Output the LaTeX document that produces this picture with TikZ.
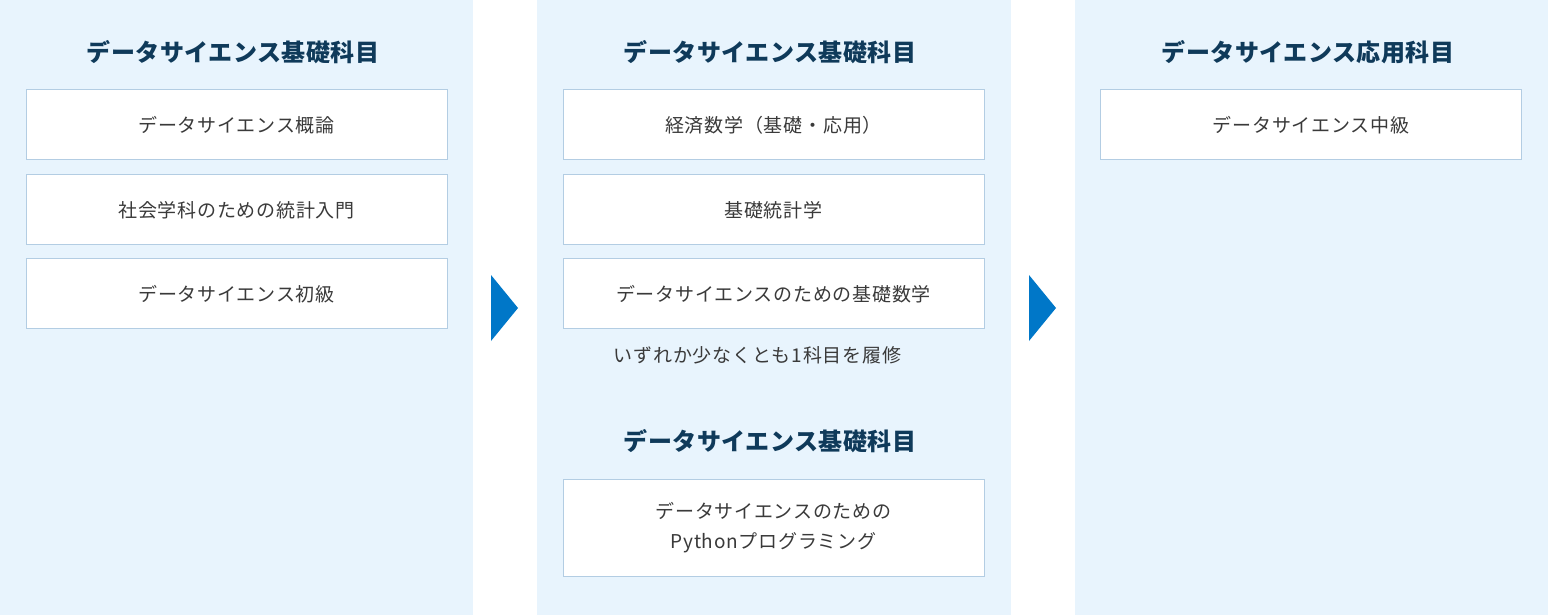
\documentclass[tikz,border=0pt]{standalone}
\usepackage{fontspec}
\setmainfont{Noto Sans CJK JP}
\usetikzlibrary{calc}
\definecolor{colbg}{HTML}{E8F4FD}
\definecolor{boxline}{HTML}{B3CDE3}
\definecolor{headblue}{HTML}{0F3A5A}
\definecolor{bodygray}{HTML}{3A3A3A}
\definecolor{arrowblue}{HTML}{0077C8}
\tikzstyle{course}=[rectangle,draw=boxline,line width=1pt,fill=white,minimum width=421pt,minimum height=70pt,inner sep=0pt,text=bodygray,font=\fontsize{19pt}{30pt}\selectfont\addfontfeature{LetterSpace=4},align=center]
\tikzstyle{heading}=[text=headblue,font=\fontsize{24pt}{28pt}\selectfont\bfseries\addfontfeature{LetterSpace=2},inner sep=0pt]
\tikzstyle{note} = [text=bodygray,font=\fontsize{19pt}{22pt}\selectfont\addfontfeature{LetterSpace=4},inner sep=0pt]

\begin{document}
\begin{tikzpicture}[x=1pt,y=-1pt]
    \useasboundingbox (0,0) rectangle (1548,615);

    % column backgrounds
    \foreach \left/ \right in {0/473, 537/1011, 1075/1548}
        \fill[colbg] (\left,0) rectangle (\right,615);

    % headings
    \foreach \pos/ \name/ \text in {{(233,52)/headA/データサイエンス基礎科目}, {(770,52)/headB/データサイエンス基礎科目}, {(770,441)/headC/データサイエンス基礎科目}, {(1308,52)/headD/データサイエンス応用科目}}
        \node[heading] (\name) at \pos {\text};

    % course boxes
    \foreach \pos/ \name/ \text in {{(236.5,125)/a1/データサイエンス概論}, {(236.5,209.5)/a2/社会学科のための統計入門}, {(236.5,293.5)/a3/データサイエンス初級}, {(773.5,125)/b1/経済数学（基礎・応用）}, {(773.5,209.5)/b2/基礎統計学}, {(773.5,293.5)/b3/データサイエンスのための基礎数学}, {(1311,125)/d1/データサイエンス中級}}
        \node[course,text depth=0pt,text height=15pt] (\name) at \pos {\text};

    \node[course,minimum height=97pt] (c1) at (773.5,527.5) {データサイエンスのための\\Pythonプログラミング};

    \node[note] (noteB) at (757.5,355) {いずれか少なくとも1科目を履修};

    % arrows between columns
    \foreach \x in {491, 1029}
        \fill[arrowblue] (\x,275) -- (\x+27,308) -- (\x,341) -- cycle;

\end{tikzpicture}
\end{document}
